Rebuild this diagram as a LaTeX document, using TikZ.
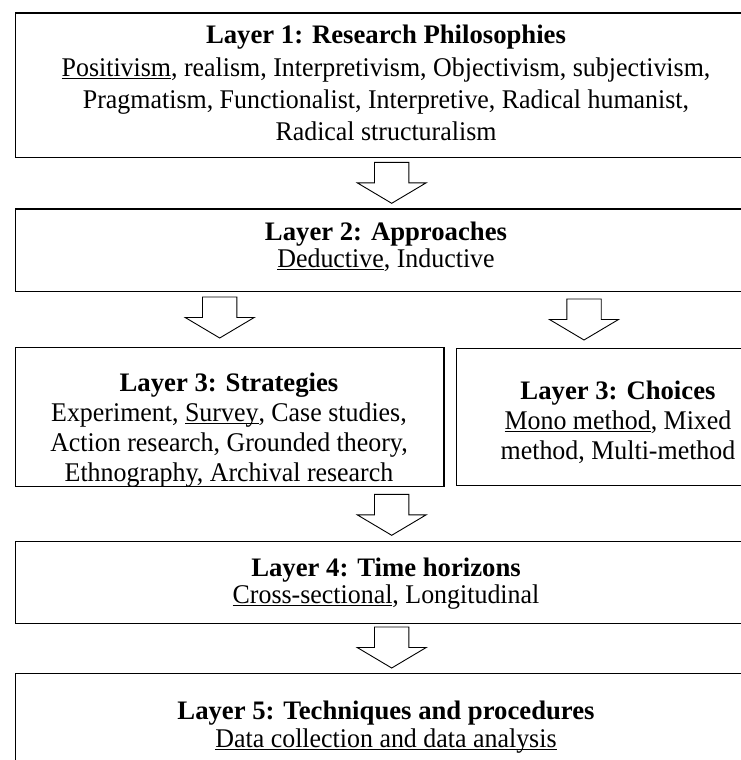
\documentclass[tikz,border=0pt]{standalone}
\usepackage{fontspec}
\setmainfont[FakeStretch=0.96]{Liberation Serif}
\newfontfamily\titlefont{Liberation Serif}
% underline with a fixed rule depth and thickness
\newcommand{\undl}[1]{\leavevmode\setbox0\hbox{#1}\rlap{\rule[-3.2pt]{\wd0}{1.3pt}}\box0}
\begin{document}
\begin{tikzpicture}[x=1pt,y=-1pt,
  frame/.style={draw=black, line width=1.4pt, inner sep=0pt, anchor=north west},
  ln/.style={anchor=base, inner sep=0pt, font=\fontsize{27}{30}\selectfont},
  hd/.style={anchor=base, inner sep=0pt, font=\fontsize{26.7}{30}\titlefont\bfseries},
  downarrow/.pic={\draw[line width=0.9pt, line join=miter, fill=white]
      (-17.2,0) -- (-17.2,20.5) -- (-34.5,20.5) -- (0,41) -- (34.5,20.5)
      -- (17.2,20.5) -- (17.2,0) -- cycle;}]
\useasboundingbox (0,0) rectangle (741,760);
\clip (0,0) rectangle (741,760);

% layer boxes
\node[frame, minimum width=742.3pt, minimum height=144.5pt] (box1) at (14.7,12.5) {};
\node[frame, minimum width=742.3pt, minimum height=82.7pt]  (box2) at (14.7,208.3) {};
\node[frame, minimum width=428.6pt, minimum height=138.5pt] (box3l) at (14.7,347) {};
\node[frame, minimum width=325.3pt, minimum height=137.5pt] (box3r) at (455.7,347.5) {};
\node[frame, minimum width=742.3pt, minimum height=82pt]    (box4) at (14.7,541) {};
\node[frame, minimum width=742.3pt, minimum height=127pt]   (box5) at (14.7,673) {};

% layer 1
\node[hd] (t1a) at (386,44)  {Layer 1: Research Philosophies};
\node[ln] (t1b) at (386,76)  {\undl{Positivism}, realism, Interpretivism, Objectivism, subjectivism,};
\node[ln] (t1c) at (386,108) {Pragmatism, Functionalist, Interpretive, Radical humanist,};
\node[ln] (t1d) at (386,140) {Radical structuralism};

% layer 2
\node[hd] (t2a) at (386,240) {Layer 2: Approaches};
\node[ln] (t2b) at (386,267) {\undl{Deductive}, Inductive};

% layer 3, strategies (text runs past the lower edge of its box)
\begin{scope}
  \clip (box3l.north west) rectangle ([yshift=0.7pt]box3l.south east);
  \node[hd] (t3a) at (229,391) {Layer 3: Strategies};
  \node[ln] (t3b) at (229,421) {Experiment, \undl{Survey}, Case studies,};
  \node[ln] (t3c) at (229,451) {Action research, Grounded theory,};
  \node[ln] (t3d) at (229,481) {Ethnography, Archival research};
\end{scope}

% layer 3, choices
\node[hd] (t3e) at (618,399) {Layer 3: Choices};
\node[ln] (t3f) at (618,429) {\undl{Mono method}, Mixed};
\node[ln] (t3g) at (618,459) {method, Multi-method};

% layer 4
\node[hd] (t4a) at (386,576) {Layer 4: Time horizons};
\node[ln] (t4b) at (386,603) {\undl{Cross-sectional}, Longitudinal};

% layer 5
\node[hd] (t5a) at (386,719) {Layer 5: Techniques and procedures};
\node[ln] (t5b) at (386,747) {\undl{Data collection and data analysis}};

% block arrows between the layers
\pic (arr1) at (391.7,162.3) {downarrow};
\pic (arr2) at (219.7,297) {downarrow};
\pic (arr3) at (584,299) {downarrow};
\pic (arr4) at (391.7,494.3) {downarrow};
\pic (arr5) at (391.7,627) {downarrow};
\end{tikzpicture}
\end{document}
